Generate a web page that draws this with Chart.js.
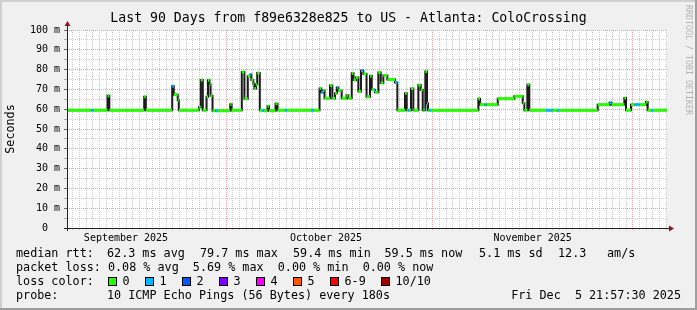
<!DOCTYPE html>
<html>
<head>
<meta charset="utf-8">
<script src="https://cdn.jsdelivr.net/npm/chart.js@4/dist/chart.umd.min.js"></script>
<style>
  html, body { margin: 0; padding: 0; background: #f0f0f0; }
  canvas { display: block; }
</style>
</head>
<body>
<canvas id="graph" width="697" height="310"></canvas>
<script>
// median rtt as steps: day the step starts (0 = left edge of the 90 day window), value in ms, lost pings out of 10
const medStart = [0, 3.68, 4.05, 6.08, 6.35, 11.58, 11.82, 15.78, 16.02, 16.61, 16.77, 19.8, 20.06, 20.37,
  20.93, 21.15, 21.38, 21.53, 21.83, 22.28, 22.65, 24.48, 24.69, 26.22, 26.61, 27.12, 27.5, 27.65, 27.95,
  28.1, 28.35, 28.53, 28.92, 29.25, 29.55, 30.08, 30.3, 31.28, 31.58, 32.78, 33.0, 36.68, 36.98,
  37.88, 38.15, 38.4, 38.63, 39.45, 39.8, 40.2, 40.47, 40.7, 41.2, 41.93, 42.2, 42.71, 42.98, 43.35,
  43.7, 44.1, 44.45, 44.93, 45.45, 45.71, 46.05, 46.2, 46.7, 47.06, 47.45, 48.05, 49.2, 49.55,
  50.7, 50.96, 51.15, 51.38, 51.6, 51.95, 52.7, 53.06, 53.36, 53.48, 53.63, 53.75, 54.0, 54.15, 54.38,
  54.6, 61.7, 61.95, 62.63, 62.93, 64.61, 67.1, 68.36, 68.6, 69.05, 69.35, 71.85, 72.83, 73.5, 73.8,
  79.6, 81.38, 81.68, 83.6, 83.85, 84.6, 85.13, 85.88, 86.85, 87.1, 87.6, 87.9];
const medRtt = [59.5, 59.5, 59.5, 66.8, 59.5, 66.3, 59.5, 71.6, 67.3, 64.5, 59.5, 61.0, 74.7, 59.5,
  66.3, 74.6, 72.5, 66.8, 59.2, 59.2, 59.2, 62.5, 59.5, 78.8, 65.3, 76.6, 77.5, 74.8, 72.8,
  70.5, 72.5, 78.3, 59.5, 59.5, 59.2, 61.5, 59.2, 62.8, 59.5, 59.5, 59.5, 59.5, 59.5,
  70.5, 68.5, 69.5, 65.5, 72.0, 65.5, 68.1, 71.0, 69.5, 65.5, 67.0, 65.5, 78.1, 74.7, 76.0,
  69.0, 79.5, 77.8, 66.3, 76.8, 70.0, 69.7, 68.6, 78.5, 73.2, 77.0, 75.0, 73.5, 59.5,
  68.0, 59.5, 59.5, 59.5, 70.4, 59.5, 72.2, 69.7, 59.5, 59.5, 59.5, 79.0, 63.0, 59.5, 59.5,
  59.5, 65.3, 62.3, 62.3, 62.3, 65.3, 66.5, 63.0, 59.5, 72.4, 59.5, 59.5, 59.5, 59.5, 59.5,
  62.3, 63.3, 62.3, 65.7, 59.5, 62.3, 62.3, 62.3, 63.6, 59.5, 59.5, 59.5];
const medLoss = [0, 1, 0, 0, 0, 0, 0, 1, 0, 0, 0, 0, 0, 0,
  0, 0, 0, 0, 0, 1, 0, 0, 0, 0, 0, 0, 1, 0, 0,
  0, 0, 0, 0, 1, 0, 0, 0, 0, 0, 1, 0, 1, 0,
  0, 1, 0, 0, 0, 0, 0, 1, 0, 0, 0, 0, 0, 0, 0,
  0, 1, 0, 0, 0, 0, 1, 0, 0, 0, 0, 0, 1, 0,
  0, 0, 1, 0, 0, 0, 0, 0, 0, 1, 0, 0, 1, 0, 1,
  0, 0, 0, 1, 0, 0, 0, 0, 0, 0, 0, 1, 0, 1, 0,
  0, 1, 0, 0, 0, 0, 1, 0, 0, 0, 1, 0];
const windowDays = 90;

// x axis: midnights fall at 0.85 + k days, month starts and month labels by midnight index
const firstMidnight = 0.85;
const monthStarts = [23, 54, 84];
const monthLabels = { 8: 'September 2025', 38: 'October 2025', 69: 'November 2025' };

// y axis (ms)
const yMax = 100;
const yMinorStep = 5;
const yMajorStep = 10;

const lossNames = ['0', '1', '2', '3', '4', '5', '6-9', '10/10'];
const lossColors = ['#26ff00', '#00b8ff', '#0059ff', '#7e00ff', '#ff00ff', '#ff5500', '#ff0000', '#a10000'];

const titleText = 'Last 90 Days from f89e6328e825 to US - Atlanta: ColoCrossing';
const rttParts = ['median rtt:', '62.3 ms avg', '79.7 ms max', '59.4 ms min', '59.5 ms now', '5.1 ms sd', '12.3', 'am/s'];
const lossLine = 'packet loss: 0.08 % avg  5.69 % max  0.00 % min  0.00 % now';
const probeParts = ['probe:', '10 ICMP Echo Pings (56 Bytes) every 180s'];
const stampText = 'Fri Dec  5 21:57:30 2025';

// ---- build series ----
const stepPoints = medStart.map((t, i) => ({ x: t, y: medRtt[i] }));
stepPoints.push({ x: windowDays, y: medRtt[medRtt.length - 1] });

const levelPoints = [];
medStart.forEach((t, i) => {
  const end = i + 1 < medStart.length ? medStart[i + 1] : windowDays;
  levelPoints.push({ x: t, y: medRtt[i] }, { x: end, y: medRtt[i] });
});

const midnights = [];
for (let k = 0; firstMidnight + k < windowDays; k++) midnights.push(firstMidnight + k);

const MONO = '"DejaVu Sans Mono", monospace';
const GRID = '#cdcdcd';
const MGRID = '#f29a9a';

const rrdFrame = {
  id: 'rrdFrame',
  beforeDraw(chart) {
    const { ctx, chartArea: a } = chart;
    ctx.save();
    ctx.fillStyle = '#f0f0f0';
    ctx.fillRect(0, 0, 697, 310);
    ctx.fillStyle = '#cfcfcf';
    ctx.fillRect(0, 0, 697, 2);
    ctx.fillRect(0, 0, 2, 310);
    ctx.fillStyle = '#9e9e9e';
    ctx.fillRect(0, 308, 697, 2);
    ctx.fillRect(695, 0, 2, 310);
    ctx.fillStyle = '#ffffff';
    ctx.fillRect(a.left, a.top, a.right - a.left, a.bottom - a.top);
    ctx.restore();
  },
  afterDraw(chart) {
    const { ctx, chartArea: a } = chart;
    ctx.save();
    // axes with arrows
    ctx.strokeStyle = '#222';
    ctx.lineWidth = 1;
    ctx.beginPath();
    ctx.moveTo(a.left + 0.5, a.bottom + 3);
    ctx.lineTo(a.left + 0.5, a.top - 5);
    ctx.moveTo(a.left - 3, a.bottom + 0.5);
    ctx.lineTo(a.right + 3, a.bottom + 0.5);
    ctx.stroke();
    ctx.fillStyle = '#8a1a1a';
    ctx.beginPath();
    ctx.moveTo(a.left - 2.5, a.top - 4);
    ctx.lineTo(a.left + 3.5, a.top - 4);
    ctx.lineTo(a.left + 0.5, a.top - 9);
    ctx.closePath();
    ctx.fill();
    ctx.beginPath();
    ctx.moveTo(a.right + 2, a.bottom - 2.5);
    ctx.lineTo(a.right + 2, a.bottom + 3.5);
    ctx.lineTo(a.right + 7, a.bottom + 0.5);
    ctx.closePath();
    ctx.fill();

    ctx.fillStyle = '#000';
    ctx.textBaseline = 'middle';
    ctx.font = '13.2px ' + MONO;
    ctx.textAlign = 'center';
    ctx.fillText(titleText, 348.5, 19);

    // watermark
    ctx.save();
    ctx.translate(688, 5);
    ctx.rotate(Math.PI / 2);
    ctx.font = '8.3px ' + MONO;
    ctx.fillStyle = '#b4b4b4';
    ctx.textAlign = 'left';
    ctx.fillText('RRDTOOL / TOBI OETIKER', 0, 0);
    ctx.restore();

    // legend block
    ctx.font = '11.76px ' + MONO;
    ctx.textAlign = 'left';
    const rttX = [16, 107, 200, 293, 384.5, 479, 558, 607];
    rttParts.forEach((s, i) => ctx.fillText(s, rttX[i], 254));
    ctx.fillText(lossLine, 16, 268);
    ctx.fillText('loss color:', 16, 282);
    const boxX = [108.5, 145.5, 182.5, 219.5, 256.5, 293.5, 330.5, 381.5];
    lossNames.forEach((n, i) => {
      ctx.fillStyle = lossColors[i];
      ctx.fillRect(boxX[i], 277.5, 8, 8);
      ctx.strokeStyle = '#000';
      ctx.strokeRect(boxX[i], 277.5, 8, 8);
      ctx.fillStyle = '#000';
      ctx.fillText(n, boxX[i] + 14, 282);
    });
    ctx.fillText(probeParts[0], 16, 296);
    ctx.fillText(probeParts[1], 107, 296);
    ctx.textAlign = 'right';
    ctx.fillText(stampText, 681, 296);
    ctx.restore();
  }
};

new Chart(document.getElementById('graph'), {
  type: 'line',
  data: {
    datasets: [
      {
        label: 'median rtt',
        data: levelPoints,
        borderColor: lossColors[0],
        borderWidth: 3,
        pointRadius: 0,
        tension: 0,
        segment: {
          borderColor: c => c.p0DataIndex % 2 === 1
            ? 'rgba(0,0,0,0)'
            : lossColors[medLoss[c.p0DataIndex / 2]]
        }
      },
      {
        label: 'steps',
        data: stepPoints,
        borderColor: '#1c1c1c',
        borderWidth: 2,
        pointRadius: 0,
        stepped: true
      }
    ]
  },
  options: {
    responsive: false,
    animation: false,
    devicePixelRatio: 1,
    layout: { padding: { left: 0, top: 30, right: 30, bottom: 62 } },
    plugins: { legend: { display: false }, tooltip: { enabled: false } },
    scales: {
      x: {
        type: 'linear',
        min: 0,
        max: windowDays,
        afterBuildTicks: axis => { axis.ticks = midnights.map(v => ({ value: v })); },
        afterFit: axis => { axis.height = 20; },
        ticks: {
          autoSkip: false,
          maxRotation: 0,
          padding: 2,
          color: '#000',
          font: { family: MONO, size: 10 },
          callback: v => monthLabels[Math.round(v - firstMidnight)] || ''
        },
        grid: {
          color: c => monthStarts.includes(c.index) ? MGRID : GRID,
          tickColor: c => monthStarts.includes(c.index) ? MGRID : GRID,
          tickLength: 2,
          lineWidth: 1
        },
        border: { display: false, dash: [1, 1] }
      },
      y: {
        min: 0,
        max: yMax,
        afterFit: axis => { axis.width = 67; },
        ticks: {
          stepSize: yMinorStep,
          autoSkip: false,
          padding: 4,
          color: '#000',
          font: { family: MONO, size: 10 },
          callback: v => v % yMajorStep !== 0 ? '' : (v === 0 ? '0  ' : v + ' m')
        },
        grid: {
          color: c => c.tick.value % yMajorStep === 0 ? MGRID : GRID,
          tickColor: c => c.tick.value % yMajorStep === 0 ? '#666' : '#aaa',
          tickLength: 3,
          lineWidth: 1
        },
        border: { display: false, dash: [1, 1] },
        title: {
          display: true,
          text: 'Seconds',
          color: '#000',
          font: { family: MONO, size: 11.76 },
          padding: { top: 4, bottom: 0 }
        }
      }
    }
  },
  plugins: [rrdFrame]
});
</script>
</body>
</html>
